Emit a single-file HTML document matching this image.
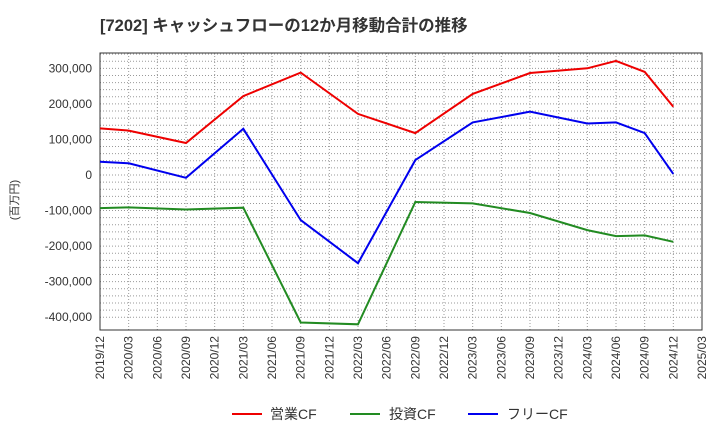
<!DOCTYPE html>
<html><head><meta charset="utf-8"><style>
body{margin:0;background:#fff;font-family:"Liberation Sans","Noto Sans CJK JP",sans-serif;}
</style></head><body>
<svg width="720" height="440" viewBox="0 0 720 440" xmlns="http://www.w3.org/2000/svg" font-family="Liberation Sans, Noto Sans CJK JP, sans-serif">
<text x="100" y="31" font-size="16.5" font-weight="bold" fill="#333">[7202]  キャッシュフローの12か月移動合計の推移</text>
<g id="grid"></g><g id="axes"></g><g id="series"></g>
<text transform="translate(18,200) rotate(-90)" font-size="11" fill="#333" text-anchor="middle">(百万円)</text>
<g>
<line x1="232" y1="414" x2="262" y2="414" stroke="#e00" stroke-width="2"/><text x="270" y="419" font-size="14" fill="#333">営業CF</text>
<line x1="350" y1="414" x2="380" y2="414" stroke="#228b22" stroke-width="2"/><text x="389" y="419" font-size="14" fill="#333">投資CF</text>
<line x1="468" y1="414" x2="498" y2="414" stroke="#00e" stroke-width="2"/><text x="507" y="419" font-size="14" fill="#333">フリーCF</text>
</g>
</svg>
<script>
const categories=["2019/12","2020/03","2020/06","2020/09","2020/12","2021/03","2021/06","2021/09","2021/12","2022/03","2022/06","2022/09","2022/12","2023/03","2023/06","2023/09","2023/12","2024/03","2024/06","2024/09","2024/12","2025/03"];
const operatingCF=[131000,125000,null,90000,null,222000,null,288000,null,172000,null,118000,null,228000,null,287000,null,300000,321000,290000,192000,null];
const investingCF=[-93000,-91000,null,-97000,null,-92000,null,-415000,null,-420000,null,-76000,null,-80000,null,-107000,null,-155000,-172000,-170000,-188000,null];
const freeCF=[37000,33000,null,-8000,null,130000,null,-127000,null,-248000,null,42000,null,148000,null,178000,null,145000,148000,118000,3000,null];
const yTicks=[300000,200000,100000,0,-100000,-200000,-300000,-400000];
const yTickLabels=["300,000","200,000","100,000","0","-100,000","-200,000","-300,000","-400,000"];
const NS="http://www.w3.org/2000/svg";
const L=100,R=702,T=53,B=330;
const x=i=>L+(R-L)*i/(categories.length-1);
const y=v=>175-v*35.55/100000;
function mk(tag,attrs,parent){const e=document.createElementNS(NS,tag);for(const k in attrs)e.setAttribute(k,attrs[k]);parent.appendChild(e);return e;}
const grid=document.getElementById('grid'),axes=document.getElementById('axes'),series=document.getElementById('series');
categories.forEach((c,i)=>{
 const g=mk('line',{x1:x(i),x2:x(i),y1:T,y2:B,stroke:'#999','stroke-dasharray':'1,2','stroke-width':1},grid);
 
 
 const t=mk('text',{transform:`translate(${x(i)+4},${B+6}) rotate(-90)`,'font-size':12,fill:'#333','text-anchor':'end'},axes);
 t.textContent=c;
 
 
});
for(let v=-400000;v<=340000;v+=20000){
 const g=mk('line',{x1:L,x2:R,y1:y(v),y2:y(v),stroke:'#999','stroke-dasharray':'1,2','stroke-width':1},grid);
 
 
}
yTicks.forEach((v,i)=>{
 const t=mk('text',{x:L-8,y:y(v)+4,'font-size':12,fill:'#333','text-anchor':'end'},axes);
 t.textContent=yTickLabels[i];
 
 
});
const frame=mk('rect',{x:L,y:T,width:R-L,height:B-T,fill:'none',stroke:'#333','stroke-width':1},axes);


function line(arr,color,name){
 const pts=[];arr.forEach((v,i)=>{if(v!==null)pts.push(x(i).toFixed(1)+','+y(v).toFixed(1));});
 const p=mk('polyline',{points:pts.join(' '),fill:'none',stroke:color,'stroke-width':2},series);
 
 
}
line(operatingCF,'#e00','operating-cf-line');
line(investingCF,'#228b22','investing-cf-line');
line(freeCF,'#00e','free-cf-line');
</script>
</body></html>
